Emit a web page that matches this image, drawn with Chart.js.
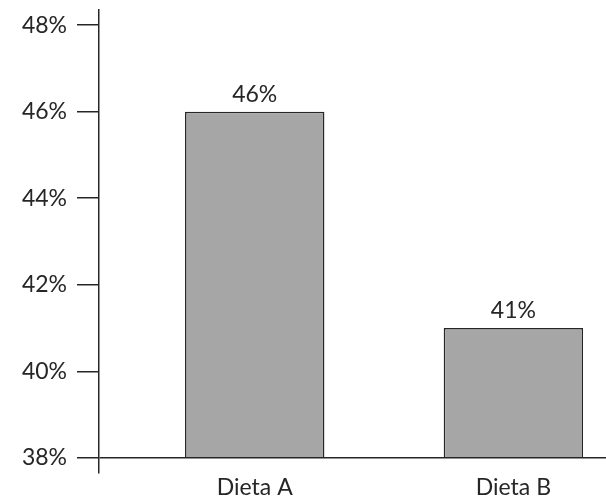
<!DOCTYPE html>
<html>
<head>
<meta charset="utf-8">
<script src="https://cdn.jsdelivr.net/npm/chart.js@4/dist/chart.umd.min.js"></script>
<style>
  html, body { margin: 0; padding: 0; background: #ffffff; }
  #wrap { width: 606px; height: 497px; }
</style>
</head>
<body>
<div id="wrap"><canvas id="c" width="606" height="497"></canvas></div>
<script>
// Share of participants per diet (percent)
const categories = ['Dieta A', 'Dieta B'];
const shares = [46, 41];
const yTicks = [38, 40, 42, 44, 46, 48];
const baseValue = 38;

const inkColor = '#262626';
const axisColor = '#262626';
const barFill = '#a6a6a6';
const barEdge = '#262626';
const font = { family: 'Lato, "Open Sans", sans-serif', size: 23 };

// Writes each bar's value just above its top edge
const valueLabels = {
  id: 'valueLabels',
  afterDatasetsDraw(chart) {
    const ctx = chart.ctx;
    const meta = chart.getDatasetMeta(0);
    ctx.save();
    ctx.font = `${font.size}px ${font.family}`;
    ctx.fillStyle = inkColor;
    ctx.textAlign = 'center';
    ctx.textBaseline = 'alphabetic';
    meta.data.forEach((bar, i) => {
      ctx.fillText(shares[i] + '%', bar.x, bar.y - 10);
    });
    ctx.restore();
  }
};

new Chart(document.getElementById('c'), {
  type: 'bar',
  data: {
    datasets: [{
      data: categories.map((c, i) => ({ x: i + 1, y: shares[i] })),
      base: baseValue,
      backgroundColor: barFill,
      borderColor: barEdge,
      borderWidth: 1.5,
      categoryPercentage: 0.539,
      barPercentage: 1
    }]
  },
  options: {
    responsive: false,
    devicePixelRatio: 1,
    animation: false,
    layout: { padding: { top: 10, left: 0, right: 0, bottom: 0 } },
    plugins: {
      legend: { display: false },
      tooltip: { enabled: false }
    },
    scales: {
      x: {
        type: 'linear',
        offset: false,
        min: 0.398,
        max: 2.358,
        afterBuildTicks: s => { s.ticks = categories.map((c, i) => ({ value: i + 1 })); },
        afterFit: s => { s.height = 24; s.paddingLeft = 0; s.paddingRight = 0; },
        ticks: {
          callback: v => categories[Math.round(v) - 1],
          padding: -7,
          maxRotation: 0,
          autoSkip: false,
          color: inkColor,
          font: font
        },
        grid: { display: false, offset: false },
        border: { display: false }
      },
      y: {
        type: 'linear',
        min: 37.65,
        max: 48.35,
        afterBuildTicks: s => { s.ticks = yTicks.map(v => ({ value: v })); },
        afterFit: s => { s.width = 99; s.paddingTop = 0; s.paddingBottom = 0; },
        ticks: {
          callback: v => v + '%',
          padding: 10,
          color: inkColor,
          font: font
        },
        grid: {
          drawOnChartArea: true,
          color: ctx => (ctx.tick && ctx.tick.value === baseValue) ? axisColor : 'rgba(0,0,0,0)',
          tickColor: axisColor,
          tickLength: 22,
          lineWidth: 1.5
        },
        border: { display: true, color: axisColor, width: 1.5 }
      }
    }
  },
  plugins: [valueLabels]
});
</script>
</body>
</html>
